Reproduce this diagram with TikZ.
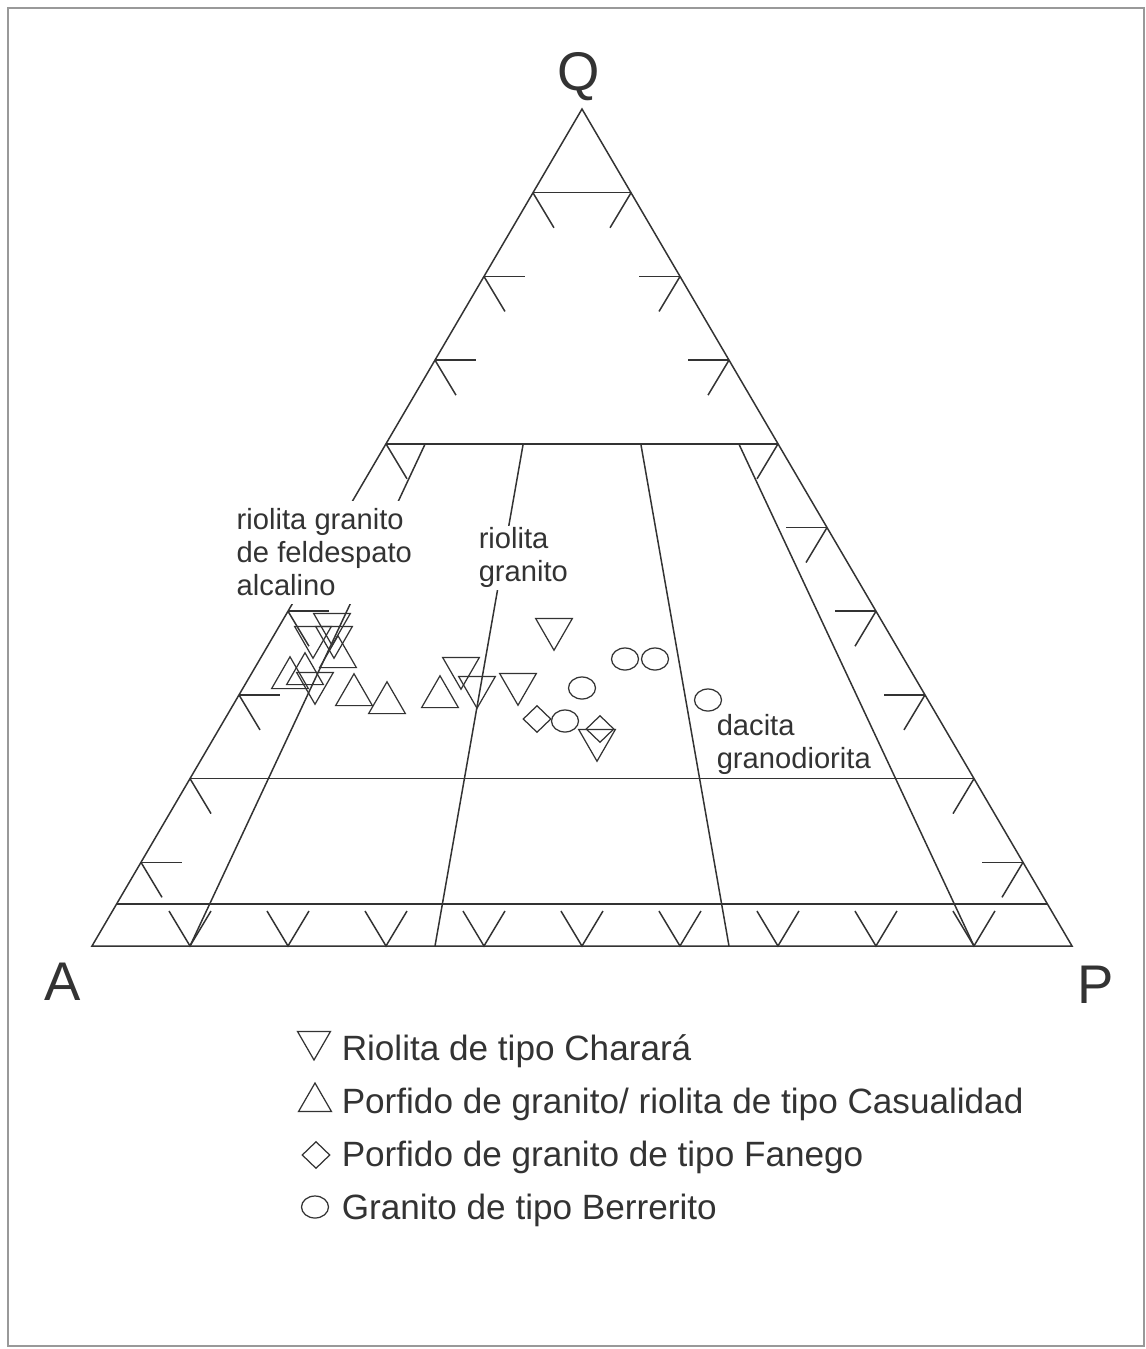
\documentclass[tikz,border=0pt]{standalone}
\usepackage{fontspec}
\setmainfont{Liberation Sans}
\usetikzlibrary{shapes.geometric,calc}
\tikzstyle{charara} = [draw, regular polygon, regular polygon sides=3, shape border rotate=180, minimum size=0.85cm, inner sep=0pt, line width=0.7pt]
\tikzstyle{casualidad} = [draw, regular polygon, regular polygon sides=3, minimum size=0.85cm, inner sep=0pt, line width=0.7pt]
\tikzstyle{fanego} = [draw, diamond, minimum width=0.56cm, minimum height=0.54cm, inner sep=0pt, line width=0.7pt]
\tikzstyle{berrerito} = [draw, ellipse, minimum width=0.54cm, minimum height=0.44cm, inner sep=0pt, line width=0.7pt]
\tikzstyle{field} = [align=left, font=\fontsize{16.6}{18.8}\selectfont, anchor=north west]
\tikzstyle{apex} = [font=\fontsize{31}{32}\selectfont, anchor=base]
\tikzstyle{entry} = [font=\fontsize{20}{24}\selectfont, anchor=base west, inner sep=0pt]

\begin{document}
\begin{tikzpicture}[x=0.02cm, y=-0.02cm, line width=0.85pt, color=black!80]
		\useasboundingbox (0,0) rectangle (1146,1349);
		\draw[black!40, line width=0.6pt] (8,8) rectangle (1144,1346);
		
		\coordinate (A) at (92,946);
		\coordinate (P) at (1072,946);
		\coordinate (Q) at (582,109);
		\coordinate (a60) at ($(A)!0.6!(Q)$);
		\coordinate (p60) at ($(P)!0.6!(Q)$);
		
		\draw (A) -- (P) -- (Q) -- cycle;
		\foreach \q in {0.9,0.6,0.2,0.05}
			\draw ($(A)!\q!(Q)$) -- ($(P)!\q!(Q)$);
		\foreach \p in {0.1,0.35,0.65,0.9}
			\draw ($(A)!\p!(P)$) -- ($(a60)!\p!(p60)$);
		
		% ticks
		\foreach \q in {0.1,0.2,...,0.9} {
			\draw ($(A)!\q!(Q)$) -- ++(21,35);
			\draw ($(P)!\q!(Q)$) -- ++(-21,35);
			\draw ($(A)!\q!(P)$) ++(-21,-35) -- ++(21,35) -- ++(21,-35);
		}
		\foreach \q in {0.1,0.3,0.4,0.5,0.7,0.8}
			\draw ($(A)!\q!(Q)$) -- ++(41,0) ($(P)!\q!(Q)$) -- ++(-41,0);
		
		\node [field, fill=white, inner xsep=0.12cm, inner ysep=0.16cm] (alcalino) at (230,500) {riolita granito\\de feldespato\\alcalino};
		\node [field, fill=white, inner sep=0.04cm] (granito) at (476,525) {riolita\\granito};
		\node [field, inner sep=0pt] (granodiorita) at (716,714) {dacita\\granodiorita};
		
		\node [apex] (q) at (579,90) {Q};
		\node [apex] (a) at (63,1000) {A};
		\node [apex] (p) at (1096,1003) {P};
		
		\node [charara] (c1) at (332,624) {};
		\node [charara] (c2) at (313,637) {};
		\node [charara] (c3) at (334,637) {};
		\node [charara] (c4) at (315,683) {};
		\node [charara] (c5) at (461,668) {};
		\node [charara] (c6) at (477,687) {};
		\node [charara] (c7) at (518,684) {};
		\node [charara] (c8) at (554,629) {};
		\node [charara] (c9) at (597,740) {};
		
		\node [casualidad] (k1) at (338,657) {};
		\node [casualidad] (k2) at (290,678) {};
		\node [casualidad] (k3) at (305,674) {};
		\node [casualidad] (k4) at (354,695) {};
		\node [casualidad] (k5) at (387,703) {};
		\node [casualidad] (k6) at (440,697) {};
		
		\node [fanego] (f1) at (537,719) {};
		\node [fanego] (f2) at (600,729) {};
		
		\node [berrerito] (b1) at (625,659) {};
		\node [berrerito] (b2) at (655,659) {};
		\node [berrerito] (b3) at (582,688) {};
		\node [berrerito] (b4) at (565,721) {};
		\node [berrerito] (b5) at (708,700) {};
		
		\node [charara, minimum size=0.76cm] (l1) at (314,1041) {};
		\node [entry] (t1) at (341,1060) {Riolita de tipo Charará};
		\node [casualidad, minimum size=0.76cm] (l2) at (315,1102) {};
		\node [entry] (t2) at (341,1113) {Porfido de granito/ riolita de tipo Casualidad};
		\node [fanego] (l3) at (316,1155) {};
		\node [entry] (t3) at (341,1166) {Porfido de granito de tipo Fanego};
		\node [berrerito] (l4) at (315,1207) {};
		\node [entry] (t4) at (341,1219) {Granito de tipo Berrerito};
		
\end{tikzpicture}
\end{document}
